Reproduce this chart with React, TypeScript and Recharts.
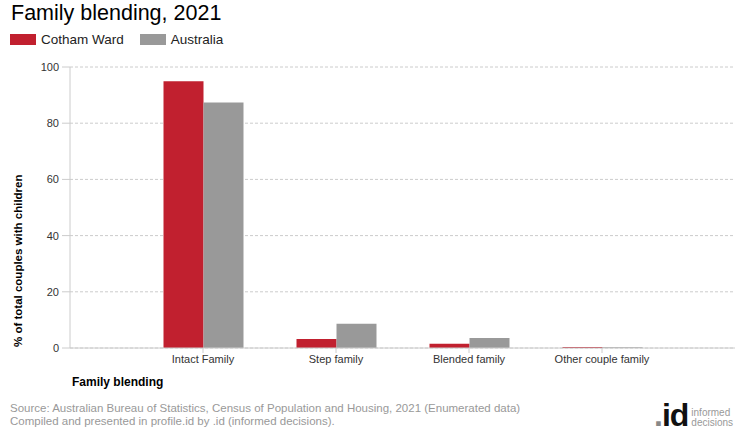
import { Bar, BarChart, CartesianGrid, XAxis, YAxis, Label } from "recharts";

const categories = ["Intact Family", "Step family", "Blended family", "Other couple family"];
const cothamWard = [94.9, 3.2, 1.5, 0.4];
const australia = [87.4, 8.6, 3.6, 0.3];
const yTicks = [0, 20, 40, 60, 80, 100];

const RED = "#c1202f";
const GREY = "#999999";
const FONT = "'Liberation Sans', Arial, sans-serif";

const data = categories.map((name, i) => ({
  name,
  cotham: cothamWard[i],
  australia: australia[i],
}));

function LegendItem({ color, label }: { color: string; label: string }) {
  return (
    <span style={{ display: "inline-flex", alignItems: "center", marginRight: 16 }}>
      <span style={{ display: "inline-block", width: 26, height: 11, background: color, marginRight: 5 }} />
      <span style={{ fontSize: 13.5, color: "#222" }}>{label}</span>
    </span>
  );
}

// y-axis title sits low, ending at the bottom of the plot
function YTitle(props: any) {
  const vb = props.viewBox || {};
  const x = 22;
  const y = (vb.y ?? 0) + (vb.height ?? 0) - 1;
  return (
    <text
      x={x}
      y={y}
      transform={`rotate(-90, ${x}, ${y})`}
      textAnchor="start"
      fontSize={11.5}
      fontWeight="bold"
      fill="#000"
      fontFamily={FONT}
    >
      % of total couples with children
    </text>
  );
}

export default function App() {
  return (
    <div style={{ position: "absolute", left: 0, top: 0, width: 740, height: 440, fontFamily: FONT, background: "#fff" }}>
      <div style={{ position: "absolute", left: 11, top: 1, fontSize: 21.5, color: "#000" }}>Family blending, 2021</div>
      <div style={{ position: "absolute", left: 10, top: 32, display: "flex" }}>
        <LegendItem color={RED} label="Cotham Ward" />
        <LegendItem color={GREY} label="Australia" />
      </div>

      <BarChart
        width={740}
        height={440}
        data={data}
        margin={{ top: 67, right: 5, left: 0, bottom: 62 }}
        barGap={0}
        barSize={40}
      >
        <CartesianGrid vertical={false} stroke="#cccccc" strokeDasharray="3 2" />
        <XAxis
          dataKey="name"
          padding={{ left: 66.5, right: 66.5 }}
          axisLine={{ stroke: "#cccccc" }}
          tickLine={{ stroke: "#cccccc" }}
          tickSize={5}
          height={30}
          tick={{ fontSize: 11, fill: "#333", fontFamily: FONT }}
        />
        <YAxis
          domain={[0, 100]}
          ticks={yTicks}
          width={70}
          axisLine={{ stroke: "#cccccc" }}
          tickLine={{ stroke: "#cccccc" }}
          tickSize={8}
          tickMargin={3}
          tick={{ fontSize: 11, fill: "#333", fontFamily: FONT }}
        >
          <Label content={YTitle} />
        </YAxis>
        <Bar dataKey="cotham" name="Cotham Ward" fill={RED} isAnimationActive={false} />
        <Bar dataKey="australia" name="Australia" fill={GREY} isAnimationActive={false} />
      </BarChart>

      <div style={{ position: "absolute", left: 72, top: 375, fontSize: 12, fontWeight: "bold", color: "#000" }}>
        Family blending
      </div>
      <div style={{ position: "absolute", left: 10, top: 402, fontSize: 11.5, color: "#999", lineHeight: "13px" }}>
        <div>Source: Australian Bureau of Statistics, Census of Population and Housing, 2021 (Enumerated data)</div>
        <div>Compiled and presented in profile.id by .id (informed decisions).</div>
      </div>
      <div style={{ position: "absolute", left: 654, top: 398, display: "flex", alignItems: "flex-end" }}>
        <span style={{ fontSize: 32, fontWeight: "bold", color: "#111", lineHeight: "34px", letterSpacing: -1 }}>
          <span style={{ color: "#888" }}>.</span>id
        </span>
        <span style={{ fontSize: 10, color: "#999", lineHeight: "10px", marginLeft: 3, marginBottom: 4 }}>
          informed
          <br />
          decisions
        </span>
      </div>
    </div>
  );
}
